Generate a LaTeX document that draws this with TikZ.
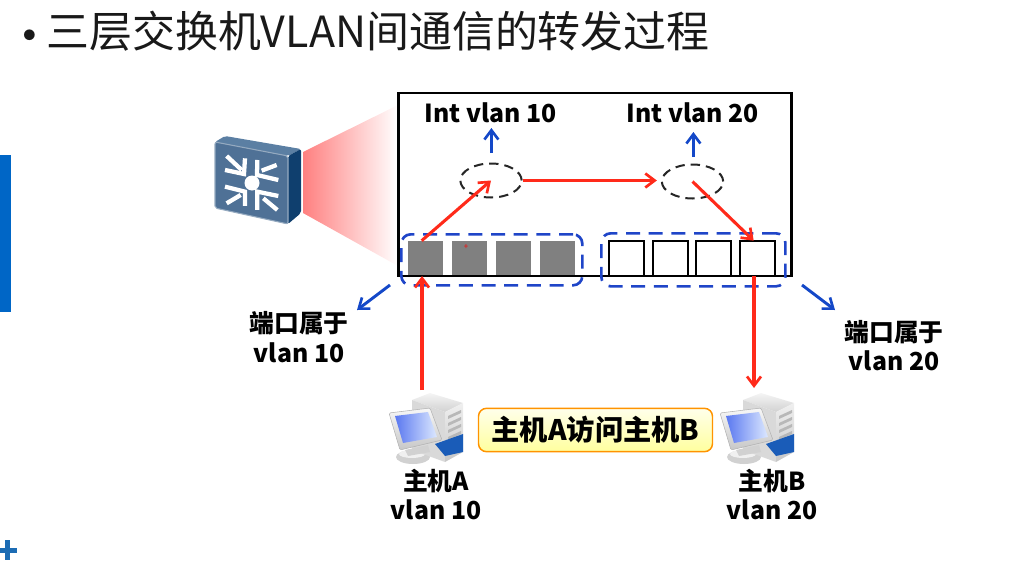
\documentclass[tikz,border=0pt]{standalone}
\usepackage{fontspec}
\setmainfont{Noto Sans CJK SC}
\usetikzlibrary{arrows.meta,shapes.geometric,calc}
\definecolor{redarrow}{HTML}{FF2A1A}
\definecolor{bluedash}{HTML}{1F45C8}
\definecolor{bluearrow}{HTML}{1448C8}
\definecolor{sidebar}{HTML}{0066C6}
\definecolor{plusblue}{HTML}{1C6CB4}
\definecolor{swfront}{HTML}{4F7196}
\definecolor{swtop}{HTML}{5B7FA3}
\definecolor{swside}{HTML}{0F3F6E}
\definecolor{funnel}{HTML}{FF8080}
\definecolor{pcblue}{HTML}{1A5CB8}
\definecolor{screenblue}{HTML}{5A78F0}
\definecolor{screenlight}{HTML}{DCE8FF}
\tikzset{
  port/.style={minimum width=26.5pt,minimum height=26.5pt,inner sep=0pt,outer sep=0pt},
  grayport/.style={port,fill=black!50!white},
  whiteport/.style={port,draw=black,line width=1.7pt,fill=white},
  vif/.style={ellipse,draw=black!85,dash pattern=on 7pt off 4.5pt,line width=1.5pt,inner sep=0pt,minimum width=46pt,minimum height=25.5pt},
  group/.style={draw=bluedash,line width=2pt,rounded corners=7pt,dash pattern=on 10.5pt off 6.5pt},
  redflow/.style={draw=redarrow,line width=2.3pt,-{Straight Barb[length=7pt,width=10.5pt,line width=2pt]}},
  blueflow/.style={draw=bluearrow,line width=2.2pt,-{Straight Barb[length=7pt,width=10.5pt,line width=2pt]}},
  lab/.style={font=\fontsize{18.6}{21}\selectfont\bfseries,align=center,inner sep=0pt,text=black},
  swarrow/.style={draw=white,line width=3.2pt,line cap=butt},
  pics/pc/.style={code={
    \fill[black!18] (413,457) ellipse [x radius=17,y radius=7];
    \fill[black!6] (412,454) ellipse [x radius=13,y radius=4];
    \shade[top color=black!4,bottom color=black!18] (412,400)--(430,393)--(463,403)--(445,412)--cycle;
    \fill[black!15] (412,400)--(445,412)--(445,462)--(412,450)--cycle;
    \shade[top color=black!6,bottom color=black!22] (445,412)--(463,403)--(463,452)--(445,462)--cycle;
    \foreach \yy in {0,7,14,21}{\fill[black!28] (448,{416+\yy})--(461,{410+\yy})--(461,{413+\yy})--(448,{419+\yy})--cycle;}
    \fill[pcblue] (435,444)--(463,434)--(463,452)--(445,456)--cycle;
    \shade[top color=black!3,bottom color=black!22,draw=black!30,line width=0.4pt,rounded corners=1pt] (389,413)--(430,408)--(442,440)--(400,450)--cycle;
    \shade[shading angle=110,left color=screenblue,right color=screenlight] (395,416)--(428,412)--(437,437)--(403,443)--cycle;
    \fill[black!18] (405,450)--(428,445)--(430,452)--(408,456)--cycle;
  }}
}
\begin{document}
\begin{tikzpicture}[x=0.75pt,y=-0.75pt]
\useasboundingbox (0,0) rectangle (1027,567);
% slide furniture
\fill[sidebar] (0,155) rectangle (11,312);
\fill[plusblue] (0,547.5) rectangle (17,552.5);
\fill[plusblue] (4.5,540) rectangle (9.5,560);
\node[anchor=west,inner sep=0pt,font=\fontsize{32.2}{36}\selectfont,text=black!90] (title) at (4,33) {\raisebox{-5.5pt}{\fontsize{38}{38}\selectfont •}\hspace{-6.5pt}三层交换机VLAN间通信的转发过程};
% funnel
\shade[left color=funnel,right color=white] (303,152)--(398,105)--(398,266)--(303,213)--cycle;
% switch icon
\fill[swtop,rounded corners=1.5pt] (215,142)--(225,136)--(301,149)--(288,156)--cycle;
\fill[swside,rounded corners=1.5pt] (288,156)--(301,149)--(301,213)--(288,224)--cycle;
\filldraw[fill=swfront,draw=swfront!60!white,line width=0.8pt,rounded corners=1.5pt] (215,142)--(288,156)--(288,224)--(215,208)--cycle;
\fill[white] (252,183) circle (7.5);
\begin{scope}[shift={(200,80)},scale=0.3333]
\draw[swarrow] (80,228)--(125,270);
\draw[swarrow] (75,270)--(132,282)--(135,235);
\draw[swarrow] (230,255)--(185,272);
\draw[swarrow] (172,240)--(171,285)--(235,300);
\draw[swarrow] (80,370)--(122,345);
\draw[swarrow] (75,320)--(135,335)--(135,378);
\draw[swarrow] (232,390)--(190,355);
\draw[swarrow] (172,390)--(172,335)--(235,348);
\end{scope}
% chassis
\node[draw=black,line width=2pt,inner sep=0pt,outer sep=0pt,minimum width=294.75pt,minimum height=137.25pt,anchor=north west] (chassis) at (398.5,93) {};
% ports
\node[grayport,anchor=south west] (g1) at (408,276) {};
\node[grayport,anchor=south west] (g2) at (452,276) {};
\node[grayport,anchor=south west] (g3) at (496,276) {};
\node[grayport,anchor=south west] (g4) at (539.5,276) {};
\node[whiteport,anchor=south west] (w1) at (609,276) {};
\node[whiteport,anchor=south west] (w2) at (653,276) {};
\node[whiteport,anchor=south west] (w3) at (696,276) {};
\node[whiteport,anchor=south west] (w4) at (740,276) {};
\node[inner sep=0pt,text=red,font=\fontsize{6}{6}\selectfont] (cursor) at (466,247) {+};
\draw[black,line width=2pt] (398.5,276)--(792,276);
% vlan groups
\node[group,minimum width=135.75pt,minimum height=38.25pt,anchor=north west,inner sep=0pt] (ga) at (400,233) {};
\node[group,minimum width=138pt,minimum height=39.75pt,anchor=north west,inner sep=0pt] (gb) at (600,232) {};
% interfaces
\node[vif] (e1) at (491,180.5) {};
\node[vif] (e2) at (692.5,181.5) {};
\node[lab] (i1) at (490.5,113) {Int vlan 10};
\node[lab] (i2) at (692.5,113) {Int vlan 20};
% pc icons
\pic at (0,0) {pc};
\pic at (331,0) {pc};
\coordinate (pa) at (422,390);
\coordinate (pb) at (754,388);
% labels
\node[lab] (l1a) at (299,323) {端口属于};
\node[lab] (l1b) at (299,353) {vlan 10};
\node[lab] (l2a) at (894,332) {端口属于};
\node[lab] (l2b) at (894,361) {vlan 20};
\node[lab] (ha1) at (436,481) {主机A};
\node[lab] (ha2) at (436,510) {vlan 10};
\node[lab] (hb1) at (772,481) {主机B};
\node[lab] (hb2) at (772,510) {vlan 20};
% banner
\node[draw=orange!85!yellow,line width=1.1pt,rounded corners=6pt,top color=yellow!8,bottom color=yellow!38,minimum width=175.5pt,minimum height=32.5pt,inner sep=0pt,font=\fontsize{21.2}{24}\selectfont\bfseries] (banner) at (595.5,430) {主机A访问主机B};
% connectors
\coordinate (fromg1) at ($(g1.north)+(-4,0)$);
\coordinate (tow4) at ($(w4.north)+(-4,0)$);
\coordinate (a1s) at (491.4,153);
\coordinate (a1e) at (491.4,128);
\coordinate (a2s) at (693.4,157);
\coordinate (a2e) at (693.4,132);
\coordinate (l1s) at (390,285);
\coordinate (l1t) at (357,310);
\coordinate (l2s) at (802,285);
\coordinate (l2t) at (835,310);
\draw[redflow] (fromg1) -- (e1.center);
\draw[redflow,shorten >=3pt] (e1.east) -- (e2.west |- e1.east);
\draw[redflow] (e2.center) -- (tow4);
\draw[redflow] (pa) -- (pa |- g1.south);
\draw[redflow] (pb |- w4.south) -- (pb);
\draw[blueflow] (a1s) -- (a1e);
\draw[blueflow] (a2s) -- (a2e);
\draw[blueflow] (l1s) -- (l1t);
\draw[blueflow] (l2s) -- (l2t);
\end{tikzpicture}
\end{document}
